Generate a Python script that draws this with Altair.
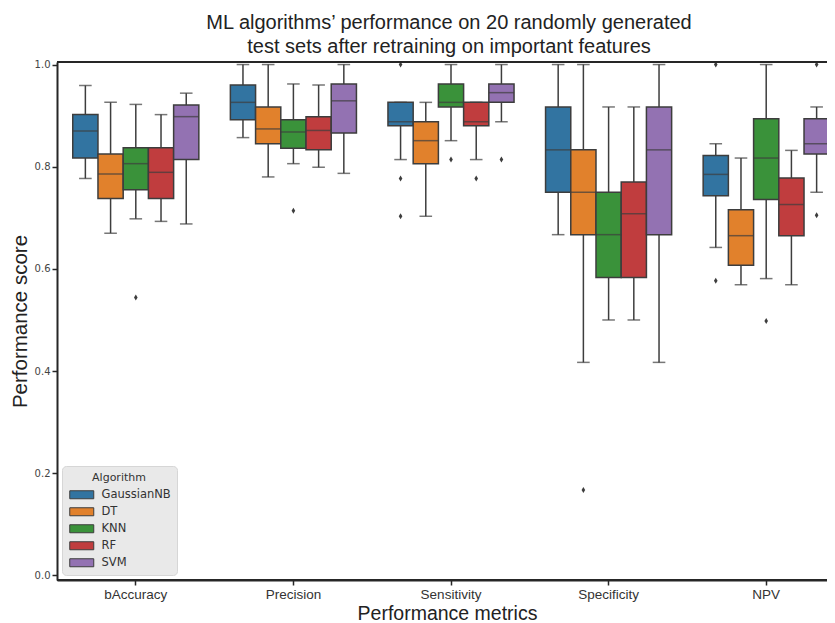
import altair as alt
import pandas as pd

metrics = ["bAccuracy", "Precision", "Sensitivity", "Specificity", "NPV"]
algorithms = ["GaussianNB", "DT", "KNN", "RF", "SVM"]
palette = ["#3274a1", "#e1812c", "#3a923a", "#c03d3e", "#9372b2"]

# box statistics, metric by metric, algorithms in the order above
whisker_low = [0.777, 0.670, 0.698, 0.693, 0.688,
               0.857, 0.780, 0.806, 0.799, 0.787,
               0.814, 0.703, 0.851, 0.814, 0.888,
               0.667, 0.417, 0.500, 0.500, 0.417,
               0.642, 0.569, 0.581, 0.569, 0.750]
q1 = [0.817, 0.738, 0.755, 0.738, 0.814,
      0.892, 0.845, 0.836, 0.833, 0.866,
      0.880, 0.806, 0.917, 0.880, 0.926,
      0.750, 0.667, 0.583, 0.583, 0.667,
      0.743, 0.607, 0.736, 0.665, 0.825]
median = [0.870, 0.786, 0.806, 0.789, 0.898,
          0.926, 0.874, 0.868, 0.871, 0.929,
          0.888, 0.851, 0.926, 0.888, 0.945,
          0.833, 0.750, 0.667, 0.708, 0.833,
          0.785, 0.665, 0.817, 0.726, 0.845]
q3 = [0.902, 0.825, 0.837, 0.837, 0.921,
      0.960, 0.917, 0.892, 0.898, 0.962,
      0.926, 0.888, 0.962, 0.926, 0.962,
      0.917, 0.833, 0.750, 0.770, 0.917,
      0.822, 0.716, 0.894, 0.778, 0.894]
whisker_high = [0.959, 0.926, 0.922, 0.902, 0.944,
                1.000, 1.000, 0.962, 0.960, 1.000,
                0.926, 0.926, 1.000, 0.926, 1.000,
                1.000, 1.000, 0.917, 0.917, 1.000,
                0.845, 0.817, 1.000, 0.832, 0.917]

outlier_metric = ["bAccuracy", "Precision",
                  "Sensitivity", "Sensitivity", "Sensitivity", "Sensitivity", "Sensitivity", "Sensitivity",
                  "Specificity",
                  "NPV", "NPV", "NPV", "NPV", "NPV"]
outlier_algorithm = ["KNN", "KNN",
                     "GaussianNB", "GaussianNB", "GaussianNB", "KNN", "RF", "SVM",
                     "DT",
                     "GaussianNB", "GaussianNB", "KNN", "SVM", "SVM"]
outlier_value = [0.544, 0.714,
                 1.000, 0.777, 0.703, 0.814, 0.777, 0.814,
                 0.167,
                 1.000, 0.577, 0.498, 1.000, 0.705]

rows = []
for i, m in enumerate(metrics):
    for j, a in enumerate(algorithms):
        k = i * len(algorithms) + j
        rows.append({"metric": m, "algorithm": a, "lo": whisker_low[k], "q1": q1[k],
                     "med": median[k], "q3": q3[k], "hi": whisker_high[k]})
box_df = pd.DataFrame(rows)
out_df = pd.DataFrame({"metric": outlier_metric, "algorithm": outlier_algorithm,
                       "value": outlier_value})

W, H = 770, 518
EDGE = "#3d3d3d"
SPINE = "#262626"

x_scale = alt.Scale(domain=metrics, range=[0, 788], paddingInner=0, paddingOuter=0)
off_scale = alt.Scale(domain=algorithms, paddingInner=0, paddingOuter=0.625)
y_scale = alt.Scale(domain=[-0.009, 1.005], nice=False, zero=False)

x_axis = alt.Axis(title="Performance metrics", labelAngle=0, labelFont="Liberation Sans",
                  labelFontSize=13.5, labelColor="#333333", labelPadding=2, tickSize=5,
                  tickWidth=1.5, tickColor=SPINE, domainColor=SPINE, domainWidth=2,
                  titleFont="Liberation Sans", titleFontSize=19.5, titleFontWeight="normal",
                  titleColor="#222222", titleX=390, titleY=39, titleBaseline="alphabetic")
y_axis = alt.Axis(title="Performance score", values=[0, 0.2, 0.4, 0.6, 0.8, 1.0], format=".1f",
                  labelFont="DejaVu Sans", labelFontSize=10, labelColor="#444444",
                  labelPadding=2, tickSize=5, tickWidth=1.5, tickColor=SPINE,
                  domainColor=SPINE, domainWidth=2, titleFont="Liberation Sans",
                  titleFontSize=20.5, titleFontWeight="normal", titleColor="#222222",
                  titleX=-31, titleY=H / 2, titleAngle=-90, titleAlign="center",
                  titleBaseline="alphabetic")

X = alt.X("metric:N", scale=x_scale, axis=x_axis, sort=metrics)
XO = alt.XOffset("algorithm:N", scale=off_scale, sort=algorithms)

base = alt.Chart(box_df)

lower_whisker = base.mark_rule(color=EDGE, strokeWidth=1.5).encode(
    x=X, xOffset=XO, y=alt.Y("lo:Q", scale=y_scale, axis=y_axis), y2="q1:Q")
upper_whisker = base.mark_rule(color=EDGE, strokeWidth=1.5).encode(
    x=X, xOffset=XO, y=alt.Y("q3:Q", scale=y_scale), y2="hi:Q")
low_cap = base.mark_tick(color=EDGE, size=12.6, thickness=1.5).encode(
    x=X, xOffset=XO, y=alt.Y("lo:Q", scale=y_scale))
high_cap = base.mark_tick(color=EDGE, size=12.6, thickness=1.5).encode(
    x=X, xOffset=XO, y=alt.Y("hi:Q", scale=y_scale))

legend = alt.Legend(title="Algorithm", orient="none", legendX=5, legendY=404,
                    titleFont="DejaVu Sans", titleFontSize=11, titleFontWeight="normal",
                    titleColor="#333333", titleAnchor="middle", titlePadding=6,
                    labelFont="DejaVu Sans", labelFontSize=11.5, labelColor="#333333",
                    fillColor="#e9e9e9", strokeColor="#d6d6d6", cornerRadius=4,
                    padding=6, rowPadding=4,
                    symbolType="M-1,-1H5V1H-1Z", symbolSize=64,
                    symbolStrokeColor=EDGE, symbolStrokeWidth=1, labelOffset=22)

boxes = base.mark_bar(stroke=EDGE, strokeWidth=1.5).encode(
    x=X, xOffset=XO, y=alt.Y("q1:Q", scale=y_scale), y2="q3:Q",
    color=alt.Color("algorithm:N", scale=alt.Scale(domain=algorithms, range=palette),
                    legend=legend))
medians = base.mark_tick(color=EDGE, size=25.2, thickness=1.5).encode(
    x=X, xOffset=XO, y=alt.Y("med:Q", scale=y_scale))

outliers = alt.Chart(out_df).mark_point(shape="M0,-1L0.6,0L0,1L-0.6,0Z", filled=True,
                                         color=EDGE, size=36, opacity=1).encode(
    x=X, xOffset=XO, y=alt.Y("value:Q", scale=y_scale))

spine_df = pd.DataFrame({"d": [0]})
top_spine = alt.Chart(spine_df).mark_rule(color=SPINE, strokeWidth=2).encode(
    x=alt.value(0), x2=alt.value(800), y=alt.value(0))
bottom_spine = alt.Chart(spine_df).mark_rule(color=SPINE, strokeWidth=2).encode(
    x=alt.value(0), x2=alt.value(800), y=alt.value(H))

chart = alt.layer(lower_whisker, upper_whisker, low_cap, high_cap, boxes, medians,
                  outliers, top_spine, bottom_spine).properties(
    width=W, height=H,
    title=alt.TitleParams(
        text=["ML algorithms\u2019 performance on 20 randomly generated",
              "test sets after retraining on important features"],
        font="Liberation Sans", fontSize=20, fontWeight="normal", color="#222222",
        anchor="middle", frame="group", dx=7, offset=3, lineHeight=24),
    autosize=alt.AutoSizeParams(type="none"),
    padding={"left": 49, "top": 54, "right": 0, "bottom": 43},
).configure_view(stroke=None).configure_axis(grid=False)

chart.save("out.html", embed_options={"renderer": "svg", "actions": False})
